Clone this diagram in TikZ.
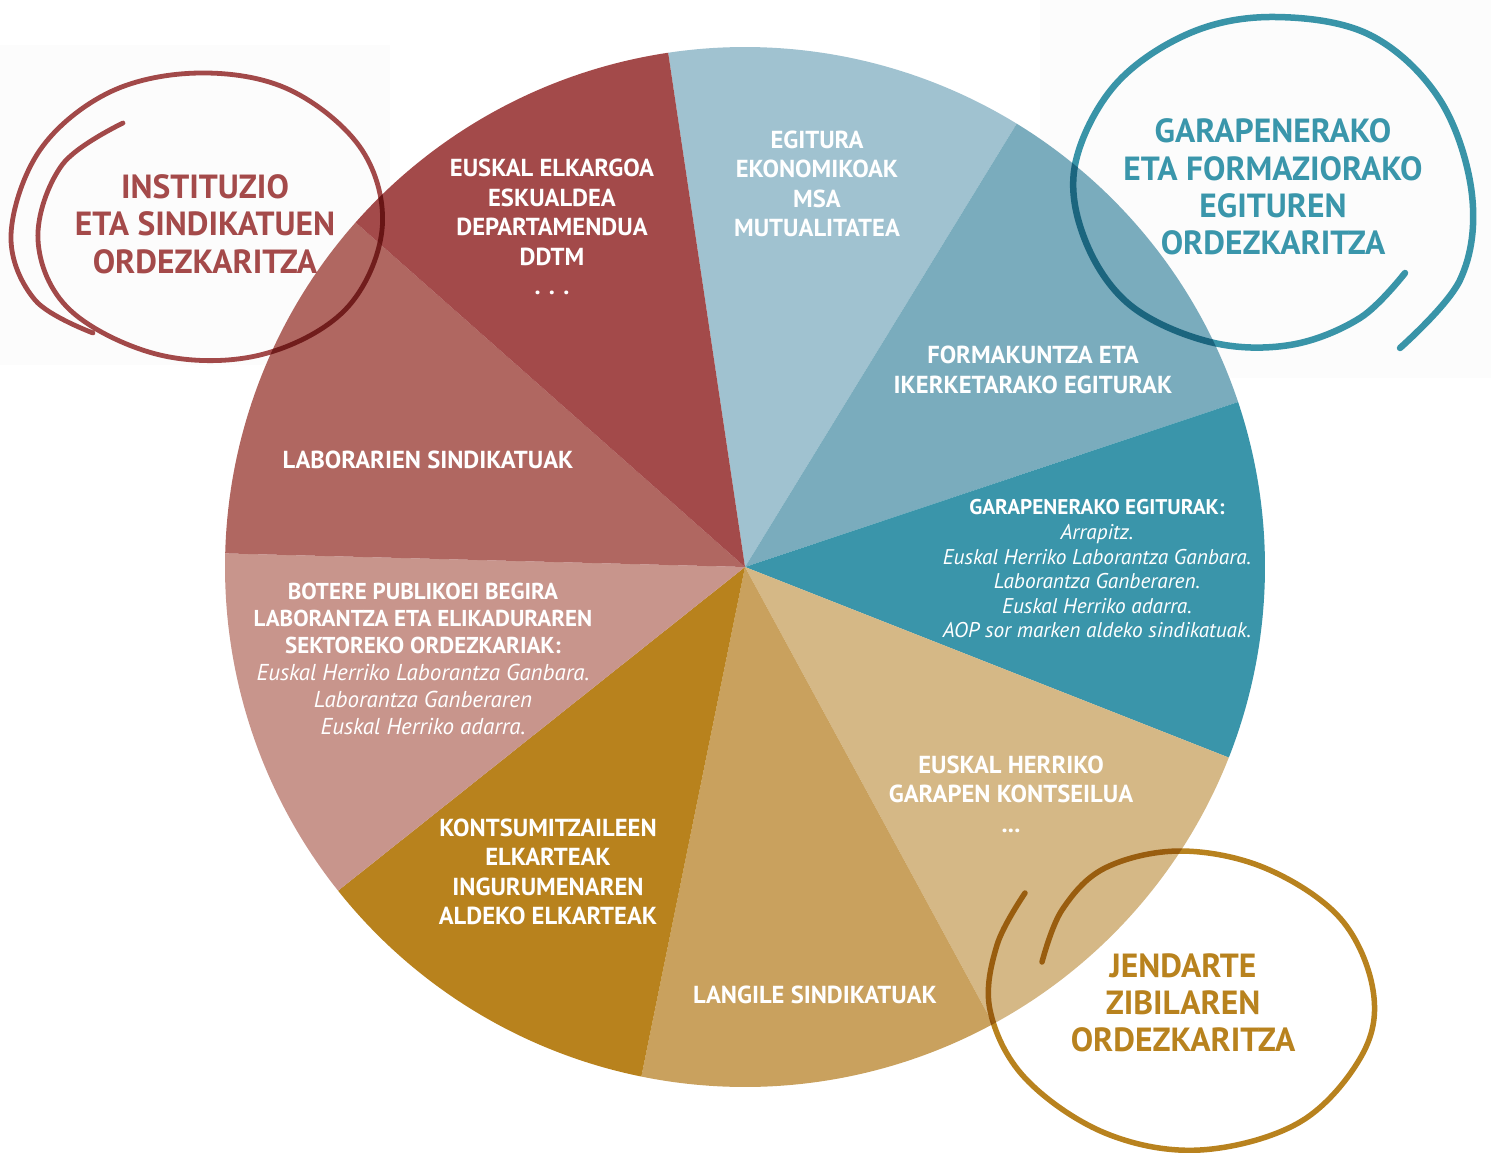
\documentclass[tikz,border=0pt]{standalone}
\usepackage{fontspec}
\setmainfont{PT Sans}
\definecolor{sEgitura}{HTML}{A0C2D0}
\definecolor{sForma}{HTML}{7AACBD}
\definecolor{sGarap}{HTML}{3A95AA}
\definecolor{sEHGK}{HTML}{D5B886}
\definecolor{sLangile}{HTML}{C9A15E}
\definecolor{sKontsu}{HTML}{B8821D}
\definecolor{sBotere}{HTML}{C8958C}
\definecolor{sLabor}{HTML}{B06761}
\definecolor{sElkar}{HTML}{A34A4A}
\definecolor{tRed}{HTML}{A44A4A}
\definecolor{tBlue}{HTML}{3A96AB}
\definecolor{tGold}{HTML}{B8821E}
\definecolor{paleBg}{HTML}{FCFCFC}
\begin{document}
\begin{tikzpicture}[x=1pt,y=-1pt,
  pietext/.style={text=white, align=center, inner sep=0pt,
    font=\bfseries\fontsize{24.6}{29.5}\selectfont},
  pieitext/.style={text=white, align=center, inner sep=0pt,
    font=\fontsize{21.3}{24.6}\selectfont},
  titletext/.style={align=center, inner sep=0pt,
    font=\bfseries\fontsize{33.5}{37.3}\selectfont},
  swirl/.style={line cap=round, line join=round}]
\useasboundingbox (0,0) rectangle (1491,1153);
% faint background panels
\fill[paleBg] (0,45) rectangle (390,365);
\fill[paleBg] (1040,0) rectangle (1491,378);
% pie
\coordinate (C) at (745,567);
\newcommand{\pieslice}[3]{\fill[#3] (C) -- ++(-#1:520) arc[start angle=-#1, end angle=-#2, radius=520] -- cycle;}
\pieslice{98.5}{58.5}{sEgitura}
\pieslice{58.5}{18.5}{sForma}
\pieslice{18.5}{-21.5}{sGarap}
\pieslice{-21.5}{-61.5}{sEHGK}
\pieslice{-61.5}{-101.5}{sLangile}
\pieslice{-101.5}{-141.5}{sKontsu}
\pieslice{-141.5}{-181.5}{sBotere}
\pieslice{-181.5}{-221.5}{sLabor}
\pieslice{-221.5}{-261.5}{sElkar}
% slice texts
\node[pietext] (elkargoa) at (552,227) {EUSKAL ELKARGOA\\ESKUALDEA\\DEPARTAMENDUA\\DDTM\\. . .};
\node[pietext] (egitura) at (817,184) {EGITURA\\EKONOMIKOAK\\MSA\\MUTUALITATEA};
\node[pietext] (formakuntza) at (1033,370) {FORMAKUNTZA ETA\\IKERKETARAKO EGITURAK};
\node[pieitext] (garapen) at (1097,569) {{\bfseries GARAPENERAKO EGITURAK:}\\\itshape Arrapitz.\\\itshape Euskal Herriko Laborantza Ganbara.\\\itshape Laborantza Ganberaren.\\\itshape Euskal Herriko adarra.\\\itshape AOP sor marken aldeko sindikatuak.};
\node[pietext] (ehgk) at (1011,794) {EUSKAL HERRIKO\\GARAPEN KONTSEILUA\\...};
\node[pietext] (langile) at (815,995) {LANGILE SINDIKATUAK};
\node[pietext] (kontsu) at (548,872) {KONTSUMITZAILEEN\\ELKARTEAK\\INGURUMENAREN\\ALDEKO ELKARTEAK};
\node[pieitext, font=\fontsize{23}{27}\selectfont] (botere) at (423,659) {{\bfseries BOTERE PUBLIKOEI BEGIRA}\\{\bfseries LABORANTZA ETA ELIKADURAREN}\\{\bfseries SEKTOREKO ORDEZKARIAK:}\\\itshape Euskal Herriko Laborantza Ganbara.\\\itshape Laborantza Ganberaren\\\itshape Euskal Herriko adarra.};
\node[pietext] (labor) at (428,460) {LABORARIEN SINDIKATUAK};
% swirl circles
\begin{scope}[blend mode=multiply]
\draw[swirl, tRed, line width=4.8] plot[smooth, tension=0.6] coordinates {
 (123,123) (62,165) (38,240) (70,310) (160,355) (260,355) (345,310) (382,230) (362,150) (290,90) (200,73) (110,92) (40,150) (11,235) (35,300) (93,333)};
\draw[swirl, tBlue, line width=6.5] plot[smooth, tension=0.6] coordinates {
 (1405,273) (1360,318) (1290,345) (1210,342) (1130,305) (1085,240) (1075,165) (1115,85) (1190,33) (1275,17) (1370,35) (1440,100) (1472,195) (1460,280) (1400,348)};
\draw[swirl, tGold, line width=5.5] plot[smooth, tension=0.6] coordinates {
 (1025,893) (997,945) (990,1010) (1025,1078) (1105,1133) (1200,1150) (1300,1122) (1362,1055) (1373,990) (1340,918) (1265,868) (1180,851) (1105,868) (1062,910) (1042,962)};
\end{scope}
% titles
\node[titletext, text=tRed] (instituzio) at (205,224) {INSTITUZIO\\ETA SINDIKATUEN\\ORDEZKARITZA};
\node[titletext, text=tBlue] (garapentitle) at (1273,187) {GARAPENERAKO\\ETA FORMAZIORAKO\\EGITUREN\\ORDEZKARITZA};
\node[titletext, text=tGold] (jendarte) at (1183,1003) {JENDARTE\\ZIBILAREN\\ORDEZKARITZA};
\end{tikzpicture}
\end{document}
